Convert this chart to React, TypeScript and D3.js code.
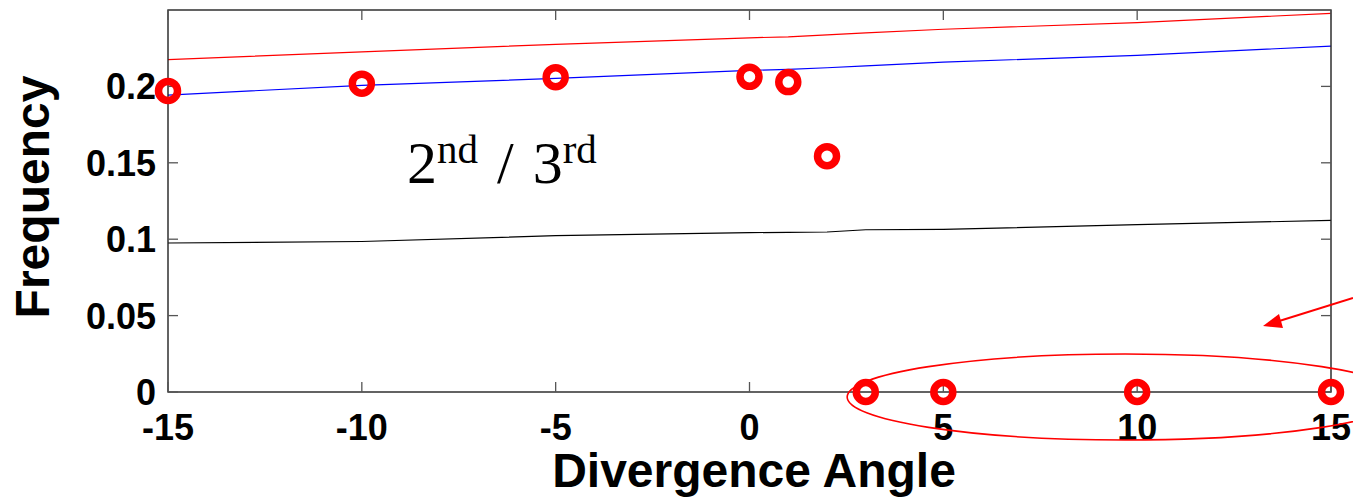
import React from "react";
import * as d3 from "d3";

const xTicks = [-15, -10, -5, 0, 5, 10, 15];
const yTicks = [0, 0.05, 0.1, 0.15, 0.2];
const yTickLabels = ["0", "0.05", "0.1", "0.15", "0.2"];

const angles = [-15, -10, -5, 0, 1, 2, 3, 5, 10, 15];
const observed = [0.197, 0.2018, 0.206, 0.2063, 0.2028, 0.1543, 0, 0, 0, 0];

const curveX = [-15, -10, -5, 0, 1, 2, 3, 5, 10, 15];
const redCurve = [0.2175, 0.2226, 0.2275, 0.2318, 0.2324, 0.2337, 0.235, 0.2374, 0.2418, 0.2478];
const blueCurve = [0.1943, 0.2007, 0.2052, 0.2105, 0.2111, 0.2122, 0.2134, 0.2159, 0.2203, 0.2264];
const blackCurve = [0.0975, 0.0985, 0.1023, 0.1043, 0.1045, 0.1047, 0.1062, 0.1064, 0.1095, 0.1123];

const W = 1353;
const H = 501;
const left = 168;
const right = 1331;
const top = 10;
const bottom = 392;

export default function App() {
  const x = d3.scaleLinear().domain([-15, 15]).range([left, right]);
  const y = d3.scaleLinear().domain([0, 0.25]).range([bottom, top]);
  const line = d3
    .line<number>()
    .x((_, i) => x(curveX[i]))
    .y((d) => y(d));

  const tickLen = 10;
  const tickColor = "#555";
  const ellipse = { cx: x(10) - 12, cy: y(0) + 5, rx: 278, ry: 43 };

  return (
    <svg
      width={W}
      height={H}
      style={{ position: "absolute", left: 0, top: 0, background: "#fff" }}
      fontFamily="'Liberation Sans', Arial, sans-serif"
    >
      <rect x={0} y={0} width={W} height={H} fill="#fff" />
      {/* curves */}
      <path d={line(redCurve) || ""} fill="none" stroke="#ff0000" strokeWidth={1.2} />
      <path d={line(blueCurve) || ""} fill="none" stroke="#0000ff" strokeWidth={1.2} />
      <path d={line(blackCurve) || ""} fill="none" stroke="#000" strokeWidth={1.2} />

      {/* frame */}
      <rect
        x={left}
        y={top}
        width={right - left}
        height={bottom - top}
        fill="none"
        stroke="#222"
        strokeWidth={1.4}
      />
      {xTicks.map((t) => (
        <g key={"xt" + t}>
          <line x1={x(t)} x2={x(t)} y1={bottom} y2={bottom - tickLen} stroke={tickColor} strokeWidth={1.3} />
          <line x1={x(t)} x2={x(t)} y1={top} y2={top + tickLen} stroke={tickColor} strokeWidth={1.3} />
          <text
            x={x(t)}
            y={440}
            textAnchor="middle"
            fontSize={36}
            fontWeight="bold"
            fill="#000"
          >
            {t}
          </text>
        </g>
      ))}
      {yTicks.map((t, i) => (
        <g key={"yt" + t}>
          <line x1={left} x2={left + tickLen} y1={y(t)} y2={y(t)} stroke={tickColor} strokeWidth={1.3} />
          <line x1={right} x2={right - tickLen} y1={y(t)} y2={y(t)} stroke={tickColor} strokeWidth={1.3} />
          <text
            x={156}
            y={y(t) + 13}
            textAnchor="end"
            fontSize={36}
            fontWeight="bold"
            fill="#000"
          >
            {yTickLabels[i]}
          </text>
        </g>
      ))}

      {/* markers */}
      {angles.map((a, i) => (
        <circle
          key={"m" + i}
          cx={x(a)}
          cy={y(observed[i])}
          r={9.5}
          fill="none"
          stroke="#ff0000"
          strokeWidth={7.5}
        />
      ))}

      {/* annotation text */}
      <text x={407} y={183} fontFamily="'Liberation Serif', 'Times New Roman', serif" fontSize={60} fill="#000">
        2
        <tspan fontSize={41} dy={-20}>nd</tspan>
        <tspan dy={20} dx={4}> / </tspan>
        <tspan dx={4}>3</tspan>
        <tspan fontSize={41} dy={-20}>rd</tspan>
      </text>

      {/* ellipse annotation */}
      <ellipse
        cx={ellipse.cx}
        cy={ellipse.cy}
        rx={ellipse.rx}
        ry={ellipse.ry}
        fill="none"
        stroke="#ff0000"
        strokeWidth={1.6}
      />
      {/* arrow */}
      <line x1={1353} y1={298} x2={1276} y2={322} stroke="#ff0000" strokeWidth={2} />
      <polygon points="1263,326 1279,314 1283,328" fill="#ff0000" />

      {/* axis titles */}
      <text
        transform="translate(49,197) rotate(-90)"
        textAnchor="middle"
        fontSize={48}
        fontWeight="bold"
        fill="#000"
      >
        Frequency
      </text>
      <text x={754} y={487} textAnchor="middle" fontSize={48} fontWeight="bold" fill="#000">
        Divergence Angle
      </text>
    </svg>
  );
}
